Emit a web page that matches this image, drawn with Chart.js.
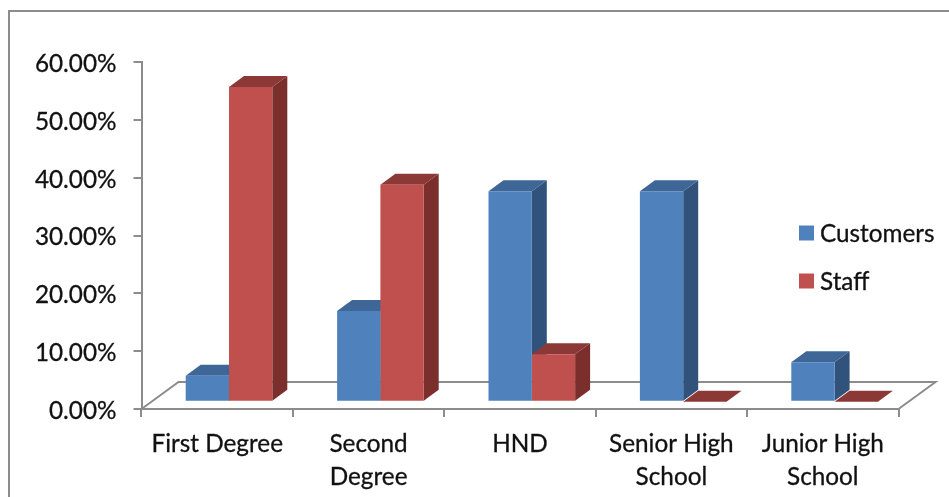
<!DOCTYPE html>
<html>
<head>
<meta charset="utf-8">
<title>Customers and Staff by education</title>
<script src="https://cdn.jsdelivr.net/npm/chart.js@4"></script>
<style>
    html, body { margin: 0; background: #fff; overflow: hidden; }
    canvas { display: block; }
</style>
</head>
<body>
<canvas id="eduChart" width="949" height="497"></canvas>
<script>
// Values
const categories = ['First Degree', ['Second', 'Degree'], 'HND', ['Senior High', 'School'], ['Junior High', 'School']];
const customers = [4.5, 15.7, 36.4, 36.4, 6.8];
const staff = [54.4, 37.5, 8.2, 0, 0];

const FONT = 'Lato, Carlito, "Open Sans", sans-serif';
const FONT_SIZE = 24.3;
const GREY = '#8c8c8c';
const TEXT = '#111';

// Face colours for the fake 3D look
const faces = [
    { front: '#4f81bd', top: '#3e6797', side: '#31527b' },
    { front: '#c0504d', top: '#8c3836', side: '#7a2f2d' }
];

// Depth of the bars and of the floor, in pixels
const barDepth = { x: 15, y: 11 };
const floorDepth = { x: 37, y: 27 };
const barShift = { x: 11.8, y: -7.3 };

function poly(ctx, color, pts) {
    ctx.fillStyle = color;
    ctx.beginPath();
    pts.forEach(function(p, i) {
        if (i === 0) ctx.moveTo(p[0], p[1]);
        else ctx.lineTo(p[0], p[1]);
    });
    ctx.closePath();
    ctx.fill();
}

// Frame, floor, bar faces and legend, all around the normal bar drawing
const fake3d = {
    id: 'fake3d',
    beforeDatasetsDraw: function(chart) {
        const ctx = chart.ctx;
        const area = chart.chartArea;

        // floor behind the bars
        ctx.save();
        ctx.strokeStyle = GREY;
        ctx.lineWidth = 2;
        ctx.beginPath();
        ctx.moveTo(area.left, area.bottom);
        ctx.lineTo(area.left + floorDepth.x, area.bottom - floorDepth.y);
        ctx.lineTo(area.right + floorDepth.x, area.bottom - floorDepth.y);
        ctx.lineTo(area.right, area.bottom);
        ctx.stroke();
        ctx.restore();

        ctx.save();
        ctx.translate(barShift.x, barShift.y);
        chart.data.datasets.forEach(function(ds, d) {
            chart.getDatasetMeta(d).data.forEach(function(bar) {
                const p = bar.getProps(['x', 'y', 'base', 'width'], true);
                const l = p.x - p.width / 2;
                const r = p.x + p.width / 2;
                const dx = barDepth.x;
                const dy = barDepth.y;
                poly(ctx, faces[d].side, [[r, p.y], [r + dx, p.y - dy], [r + dx, p.base - dy], [r, p.base]]);
                poly(ctx, faces[d].top, [[l, p.y], [l + dx, p.y - dy], [r + dx, p.y - dy], [r, p.y]]);
            });
        });
        // stays translated so the front faces land on the same spot
    },
    afterDatasetsDraw: function(chart) {
        chart.ctx.restore();
    },
    afterDraw: function(chart) {
        const ctx = chart.ctx;
        ctx.save();

        // outer frame, runs off the right and bottom of the picture
        ctx.strokeStyle = GREY;
        ctx.lineWidth = 2;
        ctx.beginPath();
        ctx.moveTo(9, chart.height + 2);
        ctx.lineTo(9, 11);
        ctx.lineTo(chart.width + 2, 11);
        ctx.stroke();

        // legend
        ctx.font = FONT_SIZE + 'px ' + FONT;
        ctx.textBaseline = 'middle';
        ctx.strokeStyle = TEXT;
        ctx.lineWidth = 0.3;
        chart.data.datasets.forEach(function(ds, i) {
            const y = 233 + i * 48;
            ctx.fillStyle = ds.backgroundColor;
            ctx.fillRect(799, y - 7.5, 15, 15);
            ctx.fillStyle = TEXT;
            ctx.fillText(ds.label, 820, y + 1);
            ctx.strokeText(ds.label, 820, y + 1);
        });
        ctx.restore();
    }
};

new Chart(document.getElementById('eduChart').getContext('2d'), {
    type: 'bar',
    data: {
        labels: categories,
        datasets: [
            { label: 'Customers', data: customers, backgroundColor: faces[0].front, clip: false },
            { label: 'Staff', data: staff, backgroundColor: faces[1].front, clip: false }
        ]
    },
    options: {
        responsive: false,
        animation: false,
        categoryPercentage: 0.572,
        barPercentage: 1,
        layout: { padding: { top: 62, right: 50.5, bottom: 0, left: 0 } },
        plugins: {
            legend: { display: false },
            tooltip: { enabled: false }
        },
        scales: {
            x: {
                afterFit: function(scale) { scale.height = 88; },
                grid: { drawOnChartArea: false, color: GREY, lineWidth: 2, tickLength: 8 },
                border: { color: GREY, width: 2 },
                ticks: {
                    autoSkip: false,
                    maxRotation: 0,
                    padding: 11,
                    color: TEXT,
                    textStrokeColor: TEXT,
                    textStrokeWidth: 0.3,
                    font: { family: FONT, size: FONT_SIZE, lineHeight: 1.36 }
                }
            },
            y: {
                min: 0,
                max: 60,
                afterFit: function(scale) { scale.width = 141.5; },
                grid: { drawOnChartArea: false, color: GREY, lineWidth: 2, tickLength: 8 },
                border: { color: GREY, width: 2 },
                ticks: {
                    stepSize: 10,
                    padding: 17,
                    color: TEXT,
                    textStrokeColor: TEXT,
                    textStrokeWidth: 0.3,
                    // empty first line with a 4px line height nudges the text 2px down
                    font: { family: FONT, size: FONT_SIZE, lineHeight: '4px' },
                    callback: function(value) { return ['', value.toFixed(2) + '%']; }
                }
            }
        }
    },
    plugins: [fake3d]
});
</script>
</body>
</html>
